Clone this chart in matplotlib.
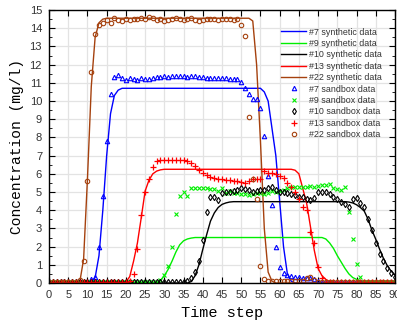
import numpy as np
import matplotlib
matplotlib.use("Agg")
import matplotlib.pyplot as plt
from matplotlib.ticker import MultipleLocator

# time axis for the sandbox measurements
time_steps = np.arange(91)

# synthetic (model) curves: time / concentration break points
syn7_t = [0, 11, 12, 13, 14, 15, 16, 17, 18, 19, 55, 56, 57, 58, 59, 60, 61, 62, 63, 64, 90]
syn7_c = [0, 0.02, 0.3, 1.5, 4.0, 7.0, 9.3, 10.3, 10.6, 10.7, 10.7, 10.5, 10.0, 8.5, 7.0, 4.5, 2.0, 0.5, 0.1, 0, 0]

syn9_t = [0, 28, 29, 30, 31, 32, 33, 34, 35, 36, 37, 38, 71, 72, 73, 74, 75, 76, 77, 78, 79, 80, 81, 82, 83, 84, 90]
syn9_c = [0, 0, 0.15, 0.4, 0.75, 1.2, 1.7, 2.1, 2.32, 2.42, 2.47, 2.5, 2.5, 2.42, 2.2, 1.9, 1.5, 1.15, 0.8, 0.5, 0.3,
          0.2, 0.12, 0.06, 0.02, 0, 0]

syn10_t = [0, 36, 37, 38, 39, 40, 41, 42, 43, 44, 45, 46, 47, 48, 77, 78, 79, 80, 81, 82, 83, 84, 85, 86, 87, 88, 89, 90]
syn10_c = [0, 0, 0.08, 0.4, 1.0, 1.85, 2.65, 3.4, 3.85, 4.15, 4.32, 4.4, 4.45, 4.47, 4.47, 4.45, 4.4, 4.3, 4.15,
           3.95, 3.5, 2.9, 2.4, 1.85, 1.35, 0.95, 0.65, 0.45]

syn13_t = [0, 20, 21, 22, 23, 24, 25, 26, 27, 28, 29, 30, 63, 64, 65, 66, 67, 68, 69, 70, 71, 72, 73, 74, 90]
syn13_c = [0, 0.05, 0.35, 1.2, 2.2, 3.6, 5.05, 5.65, 6.0, 6.15, 6.22, 6.25, 6.25, 6.2, 6.0, 5.2, 4.4, 3.1, 1.8, 0.8,
           0.4, 0.2, 0.08, 0, 0]

syn22_t = [0, 8, 9, 10, 11, 12, 13, 14, 15, 52, 53, 54, 55, 56, 57, 58, 59, 90]
syn22_c = [0, 0.05, 1.3, 5.7, 10.8, 13.5, 14.3, 14.5, 14.55, 14.55, 14.4, 12.0, 7.8, 3.0, 0.6, 0.1, 0, 0]

# sandbox measurements, one value per time step 0..90
sb7 = ([0.05] * 11 +
       [0.2, 0.35, 1.96, 4.8, 7.8, 10.4, 11.3, 11.42, 11.25, 11.15,
        11.25, 11.2, 11.15, 11.25, 11.2, 11.2, 11.25, 11.3, 11.3, 11.35,
        11.3, 11.35, 11.35, 11.35, 11.35, 11.33, 11.35, 11.35, 11.33, 11.3,
        11.28, 11.25, 11.25, 11.25, 11.25, 11.25, 11.2, 11.2, 11.2, 11.05,
        10.7, 10.37, 10.1, 10.1, 9.6, 8.07, 5.9, 4.3, 2.0, 0.9,
        0.53, 0.42, 0.38, 0.35, 0.33, 0.3, 0.28, 0.25, 0.2, 0.12] +
       [0.05] * 20)

sb9 = ([0.05] * 29 +
       [0.17, 0.44, 0.93, 2.0, 3.78, 4.78, 4.98, 4.78, 5.2, 5.2,
        5.2, 5.2, 5.2, 5.18, 5.15, 5.07, 5.2, 4.93, 5.05, 4.93,
        4.95, 4.87, 4.9, 4.85, 4.9, 4.95, 4.95, 4.9, 4.95, 5.07,
        5.0, 5.07, 5.1, 5.2, 5.3, 5.25, 5.3, 5.28, 5.3, 5.33,
        5.3, 5.35, 5.38, 5.4, 5.42, 5.2, 5.15, 5.12, 5.28, 3.9,
        2.4, 1.03, 0.31] +
       [0.05] * 9)

sb10 = ([0.05] * 36 +
        [0.1, 0.3, 0.6, 1.2, 2.35, 3.92, 4.74, 4.7, 4.56, 4.93,
         4.98, 5.0, 5.05, 5.1, 5.2, 5.15, 5.1, 5.02, 5.05, 5.1,
         5.1, 5.2, 5.3, 5.1, 5.02, 4.98, 4.93, 4.9, 4.85, 4.74,
         4.7, 4.6, 4.56, 4.65, 5.0, 5.02, 5.0, 4.9, 4.75, 4.6,
         4.47, 4.34, 4.2, 4.6, 4.65, 4.4, 4.2, 3.5, 2.9, 2.2,
         1.6, 1.2, 0.8, 0.53, 0.35])

sb13 = ([0.05] * 21 +
        [0.1, 0.48, 1.85, 3.74, 4.98, 5.7, 6.4, 6.68, 6.75, 6.75,
         6.75, 6.75, 6.75, 6.75, 6.75, 6.72, 6.58, 6.43, 6.2, 6.05,
         5.93, 5.85, 5.76, 5.72, 5.7, 5.68, 5.68, 5.62, 5.6, 5.55,
         5.51, 5.62, 5.7, 5.72, 5.71, 6.15, 6.05, 6.02, 6.0, 5.9,
         5.75, 5.5, 5.3, 5.0, 4.6, 4.2, 4.0, 2.8, 2.2, 0.9,
         0.26] +
        [0.05] * 19)

sb22 = ([0.05] * 8 +
        [0.17, 1.2, 5.6, 11.6, 13.7, 14.2, 14.3, 14.45, 14.3, 14.55,
         14.45, 14.4, 14.5, 14.45, 14.5, 14.5, 14.55, 14.5, 14.6, 14.55,
         14.45, 14.5, 14.4, 14.45, 14.5, 14.55, 14.5, 14.45, 14.5, 14.55,
         14.45, 14.4, 14.45, 14.5, 14.5, 14.5, 14.45, 14.5, 14.5, 14.5,
         14.45, 14.5, 14.2, 13.6, 9.1, 5.7, 4.6, 0.93, 0.2, 0.12,
         0.12, 0.12, 0.12, 0.12, 0.12, 0.12, 0.12, 0.12, 0.12, 0.26,
         0.35, 0.15] +
        [0.05] * 21)

c7, c9, c10, c13, c22 = '#0000ff', '#00ee00', '#000000', '#ff0000', '#a5410e'

fig = plt.figure(figsize=(3.97, 3.24), dpi=100)
ax = fig.add_axes([0.1234, 0.1265, 0.8716, 0.8425])

ax.grid(True, color='#e3e3e3', linewidth=0.9, zorder=0)
ax.set_axisbelow(True)

ax.plot(syn7_t, syn7_c, color=c7, lw=1.0, label='#7 synthetic data')
ax.plot(syn9_t, syn9_c, color=c9, lw=1.0, label='#9 synthetic data')
ax.plot(syn10_t, syn10_c, color=c10, lw=1.0, label='#10 synthetic data')
ax.plot(syn13_t, syn13_c, color=c13, lw=1.0, label='#13 synthetic data')
ax.plot(syn22_t, syn22_c, color=c22, lw=1.0, label='#22 synthetic data')

mk = dict(ls='none', markersize=3.2, markeredgewidth=0.8)
ax.plot(time_steps, sb7, marker='^', mfc='none', mec=c7, label='#7 sandbox data', **mk)
ax.plot(time_steps, sb9, marker='x', mfc='none', mec=c9, label='#9 sandbox data', **mk)
ax.plot(time_steps, sb10, marker='d', mfc='none', mec=c10, label='#10 sandbox data', **mk)
ax.plot(time_steps, sb13, marker='+', mfc='none', mec=c13, label='#13 sandbox data',
        ls='none', markersize=4.6, markeredgewidth=0.9)
ax.plot(time_steps, sb22, marker='o', mfc='none', mec=c22, label='#22 sandbox data', **mk)

ax.set_xlim(0, 90)
ax.set_ylim(0, 15)
ax.xaxis.set_major_locator(MultipleLocator(5))
ax.yaxis.set_major_locator(MultipleLocator(1))
ax.yaxis.set_minor_locator(MultipleLocator(0.5))
ax.tick_params(which='both', direction='in', top=True, right=True, labelsize=8,
               labelcolor='#333333', pad=5, labelfontfamily='Liberation Sans')
ax.tick_params(which='major', length=4)
ax.tick_params(which='minor', length=2)
for s in ax.spines.values():
    s.set_linewidth(1.0)

ax.set_xlabel('Time step', fontfamily='Liberation Mono', fontsize=11, labelpad=4)
ax.set_ylabel('Concentration (mg/l)', fontfamily='Liberation Mono', fontsize=10.5, labelpad=4)

leg = ax.legend(loc='upper right', bbox_to_anchor=(0.985, 0.965), frameon=False,
                prop={'family': 'Liberation Sans', 'size': 6.4}, handlelength=2.8,
                handletextpad=0.3, labelspacing=0.27, numpoints=1)
for t in leg.get_texts():
    t.set_color('#333333')

fig.savefig('out.png', dpi=100)
